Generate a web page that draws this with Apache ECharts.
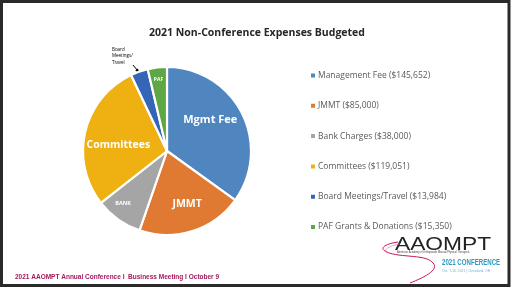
<!DOCTYPE html>
<html><head><meta charset="utf-8">
<script src="https://cdn.jsdelivr.net/npm/echarts@6/dist/echarts.min.js"></script>
<style>html,body{margin:0;padding:0;background:#fff}#c{width:512px;height:288px}</style>
</head><body><div id="c"></div>
<script>
const categories = ['Management Fee','JMMT','Bank Charges','Committees','Board Meetings/Travel','PAF Grants & Donations'];
const sliceLabels = ['Mgmt Fee','JMMT','BANK','Committees','Board\nMeetings/\nTravel','PAF'];
const values = [145652, 85000, 38000, 119051, 13984, 15350];
const colors = ['#4F86C0','#E07A33','#A5A5A5','#EEB111','#3565B5','#5FA644'];
const title = '2021 Non-Conference Expenses Budgeted';
const footer = '2021 AAOMPT Annual Conference I  Business Meeting I October 9';

const labelStyles = [
  {fontSize: 11, r: 52, dx: -3, dy: -7},
  {fontSize: 10.5, r: 50, dx: 5, dy: 5},
  {fontSize: 5.5, r: 60, dx: -9, dy: 4},
  {fontSize: 10.5, r: 50, dx: 0, dy: 6},
  null,
  {fontSize: 5, r: 74, dx: 0, dy: 2}
];

const data = values.map((v, i) => {
  const item = {name: categories[i], value: v, itemStyle: {color: colors[i]}};
  if (labelStyles[i]) {
    item.label = {show: true, position: 'inside', formatter: sliceLabels[i],
      fontSize: labelStyles[i].fontSize, fontWeight: 'bold',
      color: '#fff', fontFamily: 'Open Sans'};
  } else {
    item.label = {show: true, position: 'outside', formatter: sliceLabels[i],
      fontSize: 4.5, color: '#000', align: 'left', lineHeight: 6.5, fontFamily: 'Open Sans'};
    item.labelLine = {show: false};
  }
  return item;
});

const total = values.reduce((a, b) => a + b, 0);
const cx = 167, cy = 151, R = 84;

const chart = echarts.init(document.getElementById('c'));
chart.setOption({
  animation: false,
  title: {text: title, left: 252, textAlign: 'center', top: 23,
    textStyle: {fontSize: 10.5, fontWeight: 'bold', color: '#262626', fontFamily: 'Open Sans'}},
  legend: {
    orient: 'vertical', left: 304, top: 66, itemWidth: 6, itemHeight: 6, itemGap: 21.3,
    icon: 'rect', data: categories, selectedMode: false,
    formatter: name => name + ' ($' + values[categories.indexOf(name)].toLocaleString('en-US') + ')',
    textStyle: {fontSize: 8.5, color: '#595959', fontFamily: 'Open Sans', padding: [0, 0, 0, -3]}
  },
  series: [{
    type: 'pie', center: [cx, cy], radius: R, startAngle: 90, clockwise: true,
    data: data,
    emphasis: {disabled: true},
    itemStyle: {borderColor: '#fff', borderWidth: 2.2},
    labelLayout: function (p) {
      const i = p.dataIndex;
      if (i === 4) return {x: 112, y: 46, align: 'left', verticalAlign: 'top'};
      let before = 0;
      for (let k = 0; k < i; k++) before += values[k];
      const mid = (before + values[i] / 2) / total * Math.PI * 2;
      const s = labelStyles[i];
      return {x: cx + s.r * Math.sin(mid) + s.dx, y: cy - s.r * Math.cos(mid) + s.dy, align: 'center', verticalAlign: 'middle'};
    }
  }],
  graphic: [
    {type: 'rect', shape: {x: 1.5, y: 1.5, width: 507.5, height: 284}, style: {fill: null, stroke: '#2a2a2a', lineWidth: 3}},
    {type: 'line', shape: {x1: 133, y1: 65, x2: 138, y2: 71}, style: {stroke: '#000', lineWidth: 1}},
    {type: 'polygon', shape: {points: [[139.5, 73], [135.2, 70.5], [137.8, 68.5]]}, style: {fill: '#000'}},
    {type: 'text', x: 15, y: 277, style: {text: footer, fontSize: 6.5, fontWeight: 'bold', fill: '#A3195B', fontFamily: 'Arial', verticalAlign: 'middle'}},
    {type: 'text', x: 395, y: 236, scaleX: 1.3, style: {text: 'AAOMPT', fontSize: 17.5, fill: '#222', fontFamily: 'Liberation Sans'}},
    {type: 'text', x: 397, y: 251, style: {text: 'American Academy of Orthopaedic Manual Physical Therapists', fontSize: 2.6, fill: '#444', fontFamily: 'Arial'}},
    {type: 'text', x: 442, y: 258.5, scaleX: 0.68, style: {text: '2021 CONFERENCE', fontSize: 9, fontWeight: 'bold', fill: '#2F9AC0', fontFamily: 'Liberation Sans'}},
    {type: 'text', x: 442, y: 270, style: {text: 'Oct. 7-10, 2021 | Cleveland, OH', fontSize: 3.4, fill: '#6BB7D2', fontFamily: 'Arial'}},
    {type: 'bezierCurve', shape: {x1: 398, y1: 242, x2: 385, y2: 251, cpx1: 390, cpy1: 243, cpx2: 378, cpy2: 247}, style: {stroke: '#C2185B', lineWidth: 1, fill: null}},
    {type: 'bezierCurve', shape: {x1: 385, y1: 251, x2: 432, y2: 262, cpx1: 395, cpy1: 258, cpx2: 425, cpy2: 254}, style: {stroke: '#C2185B', lineWidth: 1, fill: null}},
    {type: 'bezierCurve', shape: {x1: 432, y1: 262, x2: 410, y2: 283, cpx1: 442, cpy1: 270, cpx2: 420, cpy2: 279}, style: {stroke: '#C2185B', lineWidth: 1, fill: null}},
    {type: 'bezierCurve', shape: {x1: 400, y1: 244, x2: 387, y2: 253, cpx1: 392, cpy1: 245, cpx2: 382, cpy2: 249}, style: {stroke: '#E06A9A', lineWidth: 0.6, fill: null}}
  ]
});
</script></body></html>
